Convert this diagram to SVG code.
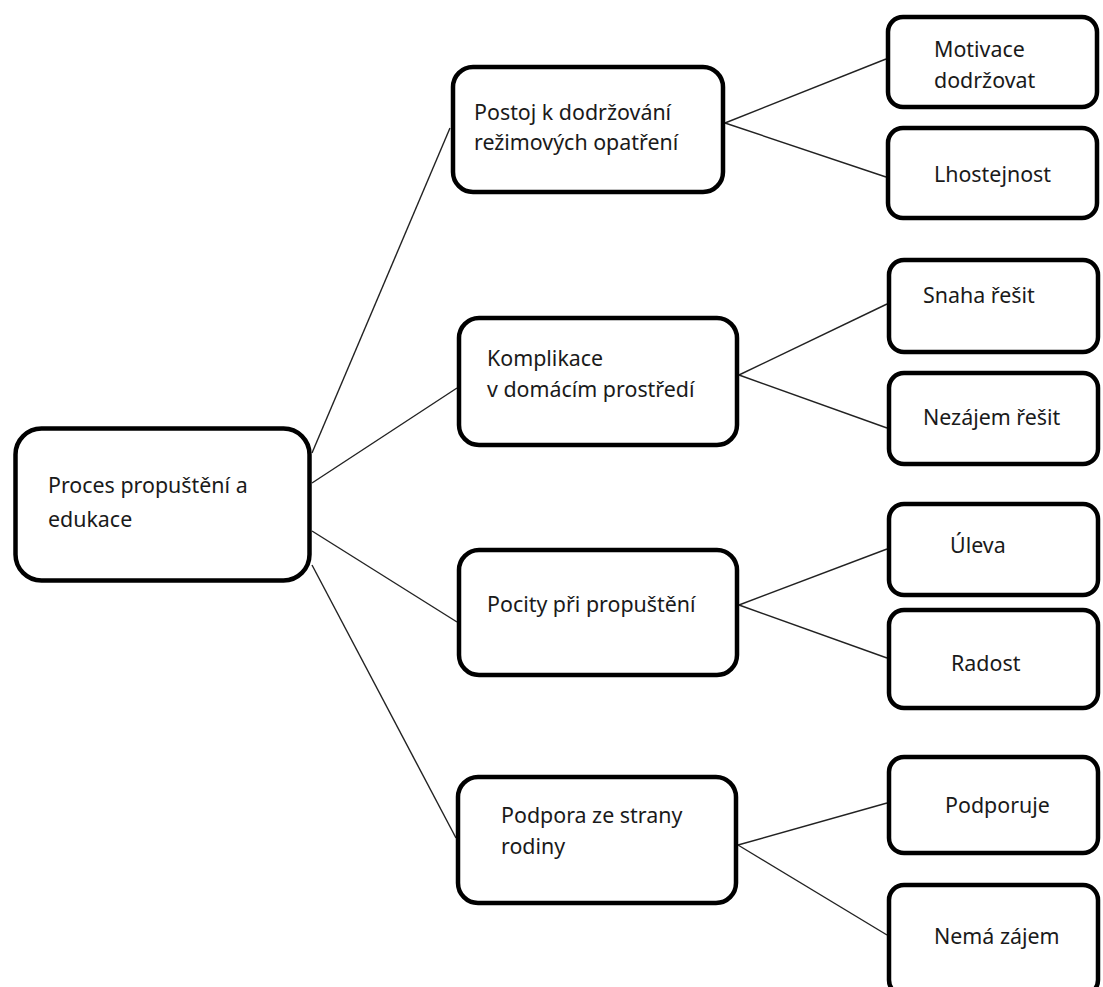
<svg xmlns="http://www.w3.org/2000/svg" width="1103" height="987" viewBox="0 0 1103 987">
<style>
  .box { fill: #ffffff; stroke: #000000; stroke-width: 4.5; }
  .lbl { font-family: "Noto Sans", "Open Sans", "Liberation Sans", sans-serif; font-size: 21.4px; fill: #1a1a1a; }
  .conn line { stroke: #222222; stroke-width: 1.4; }
</style>
<rect width="1103" height="987" fill="#ffffff"/>
<g id="connectors" class="conn">
  <line x1="312" y1="453" x2="450" y2="128"/>
  <line x1="312" y1="483" x2="457" y2="388"/>
  <line x1="312" y1="531" x2="457" y2="622"/>
  <line x1="312" y1="565" x2="456" y2="838"/>
  <line x1="725" y1="123" x2="886" y2="59"/>
  <line x1="725" y1="123" x2="886" y2="177"/>
  <line x1="739" y1="375" x2="887" y2="304"/>
  <line x1="739" y1="375" x2="887" y2="428"/>
  <line x1="739" y1="605" x2="887" y2="549"/>
  <line x1="739" y1="605" x2="887" y2="658"/>
  <line x1="738" y1="845" x2="887" y2="803"/>
  <line x1="738" y1="845" x2="887" y2="935"/>
</g>
<g id="root">
  <rect class="box" x="15.5" y="428.5" width="294" height="152" rx="26"/>
  <text class="lbl" x="48" y="493">Proces propuštění a</text>
  <text class="lbl" x="48" y="527">edukace</text>
</g>
<g id="postoj">
  <rect class="box" x="453" y="67" width="270" height="125" rx="20"/>
  <text class="lbl" x="474" y="120">Postoj k dodržování</text>
  <text class="lbl" x="474" y="150">režimových opatření</text>
</g>
<g id="komplikace">
  <rect class="box" x="459" y="318" width="278" height="127" rx="20"/>
  <text class="lbl" x="487" y="366">Komplikace</text>
  <text class="lbl" x="487" y="397">v domácím prostředí</text>
</g>
<g id="pocity">
  <rect class="box" x="459" y="550" width="278" height="125" rx="20"/>
  <text class="lbl" x="487" y="612">Pocity při propuštění</text>
</g>
<g id="podpora">
  <rect class="box" x="458" y="777" width="278" height="126" rx="20"/>
  <text class="lbl" x="501" y="823">Podpora ze strany</text>
  <text class="lbl" x="501" y="854">rodiny</text>
</g>
<g id="motivace">
  <rect class="box" x="888" y="17" width="209" height="90" rx="15"/>
  <text class="lbl" x="934" y="57">Motivace</text>
  <text class="lbl" x="934" y="88">dodržovat</text>
</g>
<g id="lhostejnost">
  <rect class="box" x="888" y="128" width="209" height="90" rx="15"/>
  <text class="lbl" x="934" y="182">Lhostejnost</text>
</g>
<g id="snaha">
  <rect class="box" x="889" y="260" width="209" height="92" rx="15"/>
  <text class="lbl" x="923" y="303">Snaha řešit</text>
</g>
<g id="nezajem">
  <rect class="box" x="889" y="373" width="209" height="91" rx="15"/>
  <text class="lbl" x="923" y="425">Nezájem řešit</text>
</g>
<g id="uleva">
  <rect class="box" x="889" y="504" width="209" height="91" rx="15"/>
  <text class="lbl" x="950" y="553">Úleva</text>
</g>
<g id="radost">
  <rect class="box" x="889" y="610" width="209" height="98" rx="15"/>
  <text class="lbl" x="951" y="671">Radost</text>
</g>
<g id="podporuje">
  <rect class="box" x="889" y="757" width="209" height="96" rx="15"/>
  <text class="lbl" x="945" y="813">Podporuje</text>
</g>
<g id="nema">
  <rect class="box" x="889" y="885" width="209" height="110" rx="15"/>
  <text class="lbl" x="934" y="944">Nemá zájem</text>
</g>
</svg>
